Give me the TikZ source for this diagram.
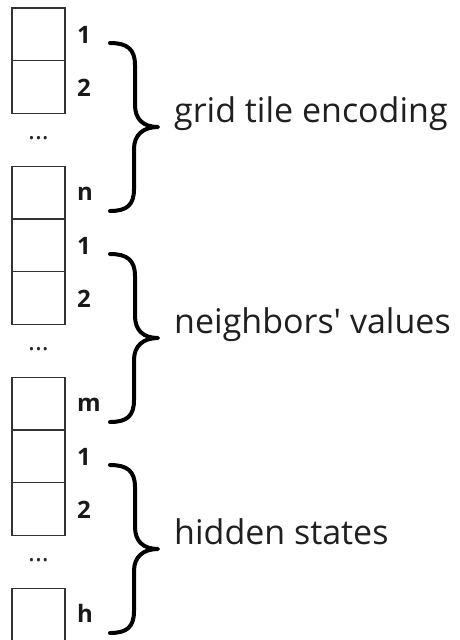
\documentclass[tikz,border=0pt]{standalone}
\usepackage{fontspec}
\setmainfont{Open Sans}
\begin{document}
\begin{tikzpicture}[x=1pt,y=-1pt,
  cell/.style={draw=black!80, line width=1.3pt, minimum width=53pt,
    minimum height=52.75pt, inner sep=0pt, outer sep=0pt},
  idx/.style={font=\fontsize{24}{24}\selectfont\bfseries, anchor=base west,
    inner sep=0pt, text=black!90},
  gap/.style={font=\fontsize{26}{26}\selectfont, anchor=base,
    inner sep=0pt, text=black!85},
  caption/.style={font=\fontsize{34}{34}\selectfont, anchor=base west,
    inner sep=0pt, text=black!88},
  curly/.pic={
    \draw[line width=4pt, line cap=round, line join=round]
      (-48,-84) .. controls (-31,-84) and (-23,-78) .. (-23,-62)
      -- (-23,-22) .. controls (-23,-8) and (-15,0) .. (0,0)
      .. controls (-15,0) and (-24,8) .. (-24,22)
      -- (-24,62) .. controls (-24,78) and (-31,84) .. (-48,84);
  }]
\useasboundingbox (0,0) rectangle (459,640);
\foreach \last/\name [count=\i from 0] in
  {n/grid tile encoding, m/neighbors\textquotesingle{} values, h/hidden states}{
  \pgfmathsetmacro{\top}{8+211*\i}
  % three cells with an ellipsis between the second and the last
  \node[cell] (b\i-1) at (38.5,\top+26.4) {};
  \node[cell] (b\i-2) at (38.5,\top+79.1) {};
  \node[gap]  (d\i)   at (38.5,\top+131.5) {...};
  \node[cell] (b\i-3) at (38.5,\top+184.6) {};
  % index labels beside the cells
  \node[idx] (l\i-1) at (77,\top+35) {1};
  \node[idx] (l\i-2) at (77,\top+88) {2};
  \node[idx] (l\i-3) at (77,\top+192.5) {\last};
  % brace and its caption
  \pic at (158,\top+119) {curly};
  \node[caption] (t\i) at (174,\top+114) {\name};
}
\end{tikzpicture}
\end{document}
